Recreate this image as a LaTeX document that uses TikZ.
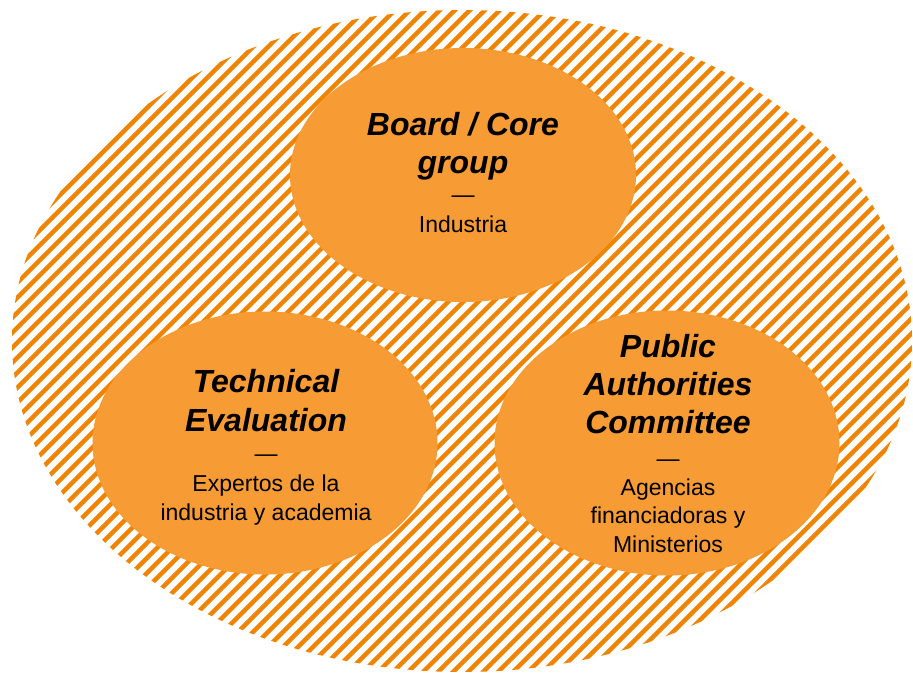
\documentclass[tikz,border=0pt]{standalone}
\usepackage{fontspec}
\setmainfont{Liberation Sans}
\usetikzlibrary{shapes.geometric}
\definecolor{hatchorange}{HTML}{F08300}
\definecolor{fillorange}{HTML}{F79B35}
\tikzset{
  px/.style={x=1pt,y=-1pt},
  inner/.style={ellipse, fill=fillorange, draw=none, inner sep=0pt},
  ttl/.style={anchor=base, inner sep=0pt, font=\fontsize{32}{38}\selectfont\bfseries\itshape},
  sub/.style={anchor=base, inner sep=0pt, font=\fontsize{23}{29}\selectfont},
  hatch/.style={hatchorange, line width=4.5pt},
}
\begin{document}
\begin{tikzpicture}[px]
\useasboundingbox (0,0) rectangle (913,673);
% outer hatched ellipse
\node[ellipse, inner sep=0pt, minimum width=900, minimum height=662] (outer) at (462,341) {};
\begin{scope}
  \clip (outer.center) ellipse [x radius=450, y radius=331];
  \foreach \k in {-10,...,120} {
    \pgfmathsetmacro{\c}{\k*15}
    \draw[hatch] (\c+100,-100) -- (\c-800,800);
  }
\end{scope}
% inner ellipses
\node[inner, minimum width=346, minimum height=254] (board) at (463,175) {};
\node[inner, minimum width=345, minimum height=263] (tech) at (265,443) {};
\node[inner, minimum width=345, minimum height=265] (pub) at (667,443) {};
% top texts
\node[ttl] (b1) at (463,135) {Board / Core};
\node[ttl] (b2) at (463,173) {group};
\node[sub] (b3) at (463,202) {—};
\node[sub] (b4) at (463,232) {Industria};
% left texts
\node[ttl] (t1) at (266,392) {Technical};
\node[ttl] (t2) at (266,431) {Evaluation};
\node[sub] (t3) at (266,461) {—};
\node[sub] (t4) at (266,491) {Expertos de la};
\node[sub] (t5) at (266,520) {industria y academia};
% right texts
\node[ttl] (p1) at (668,357) {Public};
\node[ttl] (p2) at (668,395) {Authorities};
\node[ttl] (p3) at (668,433) {Committee};
\node[sub] (p4) at (668,466) {—};
\node[sub] (p5) at (668,495) {Agencias};
\node[sub] (p6) at (668,523) {financiadoras y};
\node[sub] (p7) at (668,552) {Ministerios};
\end{tikzpicture}
\end{document}
